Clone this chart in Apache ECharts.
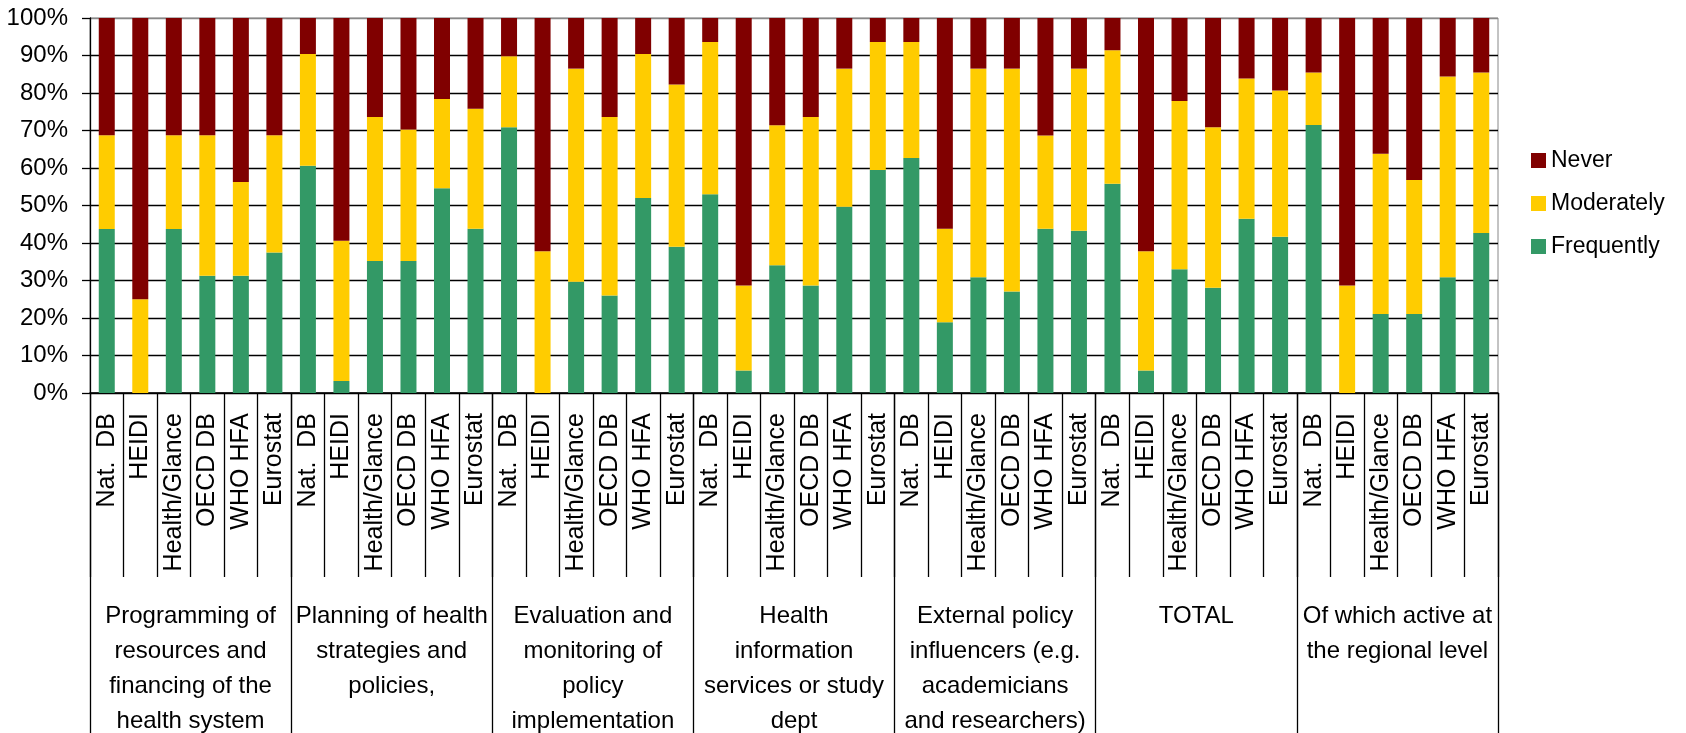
<!DOCTYPE html>
<html>
<head>
<meta charset="utf-8">
<script src="https://cdn.jsdelivr.net/npm/echarts@6/dist/echarts.min.js"></script>
<style>
html,body{margin:0;padding:0;background:#fff;}
#chart{width:1686px;height:733px;}
</style>
</head>
<body>
<div id="chart"></div>
<script>
const sources = ['Nat.  DB', 'HEIDI', 'Health/Glance', 'OECD DB', 'WHO HFA', 'Eurostat'];
const groups = [
  'Programming of\nresources and\nfinancing of the\nhealth system',
  'Planning of health\nstrategies and\npolicies,',
  'Evaluation and\nmonitoring of\npolicy\nimplementation',
  'Health\ninformation\nservices or study\ndept',
  'External policy\ninfluencers (e.g.\nacademicians\nand researchers)',
  'TOTAL',
  'Of which active at\nthe regional level'
];
const yTicks = [0, 10, 20, 30, 40, 50, 60, 70, 80, 90, 100];

const frequently = [
  43.75, 0, 43.75, 31.25, 31.25, 37.5,
  60.6, 3.2, 35.2, 35.2, 54.6, 43.8,
  70.9, 0, 29.7, 26.0, 52.0, 39.0,
  53.0, 6.0, 34.1, 28.7, 49.7, 59.5,
  62.7, 18.9, 30.9, 27.1, 43.8, 43.3,
  55.8, 6.0, 33.0, 28.1, 46.5, 41.7,
  71.5, 0, 21.1, 21.1, 30.9, 42.7
];
const moderately = [
  25, 25, 25, 37.5, 25, 31.25,
  29.8, 37.4, 38.4, 35.1, 23.8, 32.0,
  18.9, 37.8, 56.8, 47.6, 38.4, 43.3,
  40.6, 22.7, 37.3, 44.9, 36.8, 34.1,
  30.9, 24.9, 55.6, 59.4, 24.9, 43.2,
  35.6, 31.8, 44.9, 42.8, 37.4, 39.0,
  14.0, 28.7, 42.7, 35.7, 53.5, 42.8
];
const never = [
  31.25, 75, 31.25, 31.25, 43.75, 31.25,
  9.6, 59.4, 26.4, 29.7, 21.6, 24.2,
  10.2, 62.2, 13.5, 26.4, 9.6, 17.7,
  6.4, 71.3, 28.6, 26.4, 13.5, 6.4,
  6.4, 56.2, 13.5, 13.5, 31.3, 13.5,
  8.6, 62.2, 22.1, 29.1, 16.1, 19.3,
  14.5, 71.3, 36.2, 43.2, 15.6, 14.5
];

const categories = [];
groups.forEach(function () { sources.forEach(function (s) { categories.push(s); }); });

const FONT = '"Liberation Sans", Arial, sans-serif';
const chart = echarts.init(document.getElementById('chart'), null, {renderer: 'canvas'});
const splitColors = yTicks.map(function (v) { return v === 100 ? '#888888' : '#000000'; });

chart.setOption({
  animation: false,
  backgroundColor: '#ffffff',
  textStyle: {fontFamily: FONT, color: '#000'},
  grid: {left: 90, right: 188, top: 18, bottom: 340, containLabel: false, outerBoundsMode: 'none', show: true, borderColor: '#888888', borderWidth: 1},
  legend: {
    orient: 'vertical',
    left: 1526,
    top: 144,
    data: ['Never', 'Moderately', 'Frequently'],
    icon: 'rect',
    itemWidth: 15,
    itemHeight: 15,
    itemGap: 20,
    textStyle: {fontSize: 23, color: '#000', fontFamily: FONT}
  },
  xAxis: [
    {
      type: 'category',
      data: categories,
      gridIndex: 0,
      position: 'bottom',
      axisLine: {show: true, lineStyle: {color: '#000', width: 1.5}},
      axisTick: {show: true, interval: 0, length: 184, lineStyle: {color: '#000', width: 1.3}},
      axisLabel: {show: true, interval: 0, rotate: 90, margin: 20, fontSize: 25, color: '#000', fontFamily: FONT},
      splitLine: {show: false}
    },
    {
      type: 'category',
      data: groups,
      gridIndex: 0,
      position: 'bottom',
      axisLine: {show: false},
      axisTick: {show: true, interval: 0, length: 340, lineStyle: {color: '#000', width: 1.3}},
      axisLabel: {show: true, interval: 0, margin: 206, fontSize: 24, lineHeight: 35, verticalAlign: 'top', align: 'center', color: '#000', fontFamily: FONT},
      splitLine: {show: false}
    }
  ],
  yAxis: {
    type: 'value',
    min: 0,
    max: 100,
    interval: 10,
    axisLine: {show: true, lineStyle: {color: '#000', width: 1.3}},
    axisTick: {show: true, length: 8, lineStyle: {color: '#000', width: 1.3}},
    axisLabel: {formatter: '{value}%', fontSize: 24, margin: 22, color: '#000', fontFamily: FONT},
    splitLine: {show: true, lineStyle: {color: splitColors, width: 1.3}}
  },
  series: [
    {name: 'Frequently', type: 'bar', stack: 'total', data: frequently, barWidth: 16, itemStyle: {color: '#339966'}, xAxisIndex: 0},
    {name: 'Moderately', type: 'bar', stack: 'total', data: moderately, barWidth: 16, itemStyle: {color: '#FFCC00'}, xAxisIndex: 0},
    {name: 'Never', type: 'bar', stack: 'total', data: never, barWidth: 16, itemStyle: {color: '#800000'}, xAxisIndex: 0}
  ]
});
</script>
</body>
</html>
